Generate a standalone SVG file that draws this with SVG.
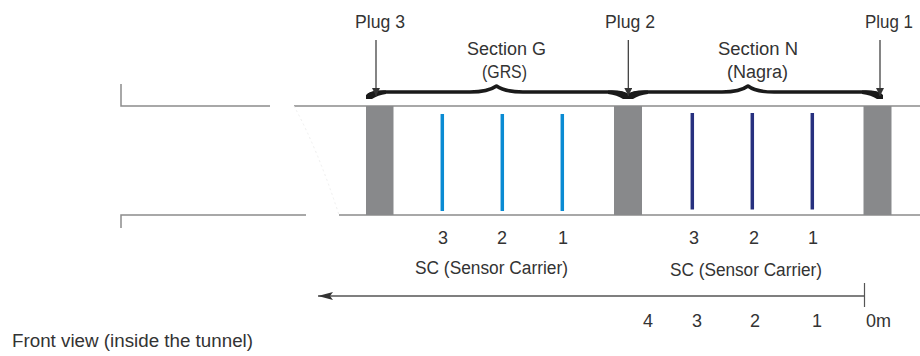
<svg xmlns="http://www.w3.org/2000/svg" width="920" height="356" viewBox="0 0 920 356">
<defs>
<style>
.t{font-family:"Liberation Sans",Arial,sans-serif;fill:#333;font-size:18px}
.n{font-family:"Liberation Sans",Arial,sans-serif;fill:#333;font-size:18px;text-anchor:middle}
.wall{stroke:#8c8c8c;stroke-width:1.5;fill:none}
.plug{fill:#88898b}
.sg{stroke:#0a8bd3;stroke-width:3.5}
.sn{stroke:#27317f;stroke-width:3.5}
.brace{fill:none;stroke:#1a1a1a;stroke-width:3.5;stroke-linejoin:round}
.bend{fill:#1a1a1a}
.arr{stroke:#333;stroke-width:1.2;fill:none}
</style>
<marker id="ah" viewBox="0 0 10 10" refX="10" refY="5" markerWidth="8" markerHeight="8" markerUnits="userSpaceOnUse" orient="auto">
<path d="M0,0 L10,5 L0,10 Z" fill="#333"/>
</marker>
<marker id="ah2" viewBox="0 0 15 8" refX="15" refY="4" markerWidth="15" markerHeight="8" markerUnits="userSpaceOnUse" orient="auto">
<path d="M0,0 L15,4 L0,8 L3,4 Z" fill="#333"/>
</marker>
</defs>
<rect width="920" height="356" fill="#fff"/>

<g id="tunnel">
<path class="wall" d="M121,84 V106 H270 M294,106 H920"/>
<path class="wall" d="M121,228 V215 H306 M339,215 H920"/>
<path d="M294,106 Q318,150 339,215" stroke="#efefef" stroke-width="1" stroke-dasharray="2,3" fill="none"/>
</g>

<g id="plug3">
<rect class="plug" x="366" y="106" width="27.5" height="109"/>
<text class="t" x="355" y="28" textLength="50" lengthAdjust="spacingAndGlyphs">Plug 3</text>
</g>
<g id="plug2">
<rect class="plug" x="614" y="106" width="28" height="109"/>
<text class="t" x="605" y="28" textLength="50" lengthAdjust="spacingAndGlyphs">Plug 2</text>
</g>
<g id="plug1">
<rect class="plug" x="863.5" y="106" width="28" height="109"/>
<text class="t" x="865" y="28" textLength="48" lengthAdjust="spacingAndGlyphs">Plug 1</text>
</g>

<g id="sectionG">
<text class="t" x="467" y="55" textLength="79" lengthAdjust="spacingAndGlyphs">Section G</text>
<text class="t" x="482" y="78" textLength="45" lengthAdjust="spacingAndGlyphs">(GRS)</text>
<path class="brace" d="M368,97 Q368,92 384,92 L470,92 Q488,92 496.5,86 Q505,92 523,92 L612,92 Q627,92 627,97"/>
<path class="bend" d="M366,99 L366,95 Q370,90 386,90.5 L386,94 Q378,95 372,99 Z"/>
<path class="bend" d="M629,99 L629,95 Q625,90 608,90.5 L608,94 Q617,95 623,99 Z"/>
</g>
<g id="sectionN">
<text class="t" x="718" y="55" textLength="80" lengthAdjust="spacingAndGlyphs">Section N</text>
<text class="t" x="727" y="78" textLength="61" lengthAdjust="spacingAndGlyphs">(Nagra)</text>
<path class="brace" d="M629,97 Q629,92 645,92 L722,92 Q740,92 748,86 Q756,92 774,92 L866,92 Q881,92 881,97"/>
<path class="bend" d="M627,99 L627,95 Q631,90 648,90.5 L648,94 Q639,95 633,99 Z"/>
<path class="bend" d="M883,99 L883,95 Q879,90 862,90.5 L862,94 Q871,95 877,99 Z"/>
</g>

<g id="sensorsG">
<line class="sg" x1="442.3" y1="114" x2="442.3" y2="211"/>
<line class="sg" x1="502.3" y1="114" x2="502.3" y2="211"/>
<line class="sg" x1="562.3" y1="114" x2="562.3" y2="211"/>
<text class="n" x="443" y="244">3</text>
<text class="n" x="502" y="244">2</text>
<text class="n" x="563" y="244">1</text>
<text class="t" x="415" y="274" textLength="153" lengthAdjust="spacingAndGlyphs">SC (Sensor Carrier)</text>
</g>
<g id="sensorsN">
<line class="sn" x1="692.3" y1="113" x2="692.3" y2="209.5"/>
<line class="sn" x1="752.3" y1="113" x2="752.3" y2="209.5"/>
<line class="sn" x1="812.3" y1="113" x2="812.3" y2="209.5"/>
<text class="n" x="694" y="244">3</text>
<text class="n" x="754" y="244">2</text>
<text class="n" x="813" y="244">1</text>
<text class="t" x="670" y="276" textLength="152" lengthAdjust="spacingAndGlyphs">SC (Sensor Carrier)</text>
</g>

<g id="connectors">
<line class="arr" x1="376" y1="40" x2="376" y2="96" marker-end="url(#ah)"/>
<line class="arr" x1="628.3" y1="40" x2="628.3" y2="96" marker-end="url(#ah)"/>
<line class="arr" x1="880" y1="40" x2="880" y2="96" marker-end="url(#ah)"/>
</g>

<g id="scale">
<line x1="864" y1="296" x2="318" y2="296" stroke="#555" stroke-width="1.5" marker-end="url(#ah2)"/>
<line x1="864.5" y1="283" x2="864.5" y2="307" stroke="#555" stroke-width="1.2"/>
<text class="n" x="648" y="327">4</text>
<text class="n" x="697" y="327">3</text>
<text class="n" x="755" y="327">2</text>
<text class="n" x="817" y="327">1</text>
<text class="t" x="866" y="327" textLength="25" lengthAdjust="spacingAndGlyphs">0m</text>
</g>

<g id="caption">
<text class="t" x="12" y="347" textLength="241" lengthAdjust="spacingAndGlyphs">Front view (inside the tunnel)</text>
</g>
</svg>
